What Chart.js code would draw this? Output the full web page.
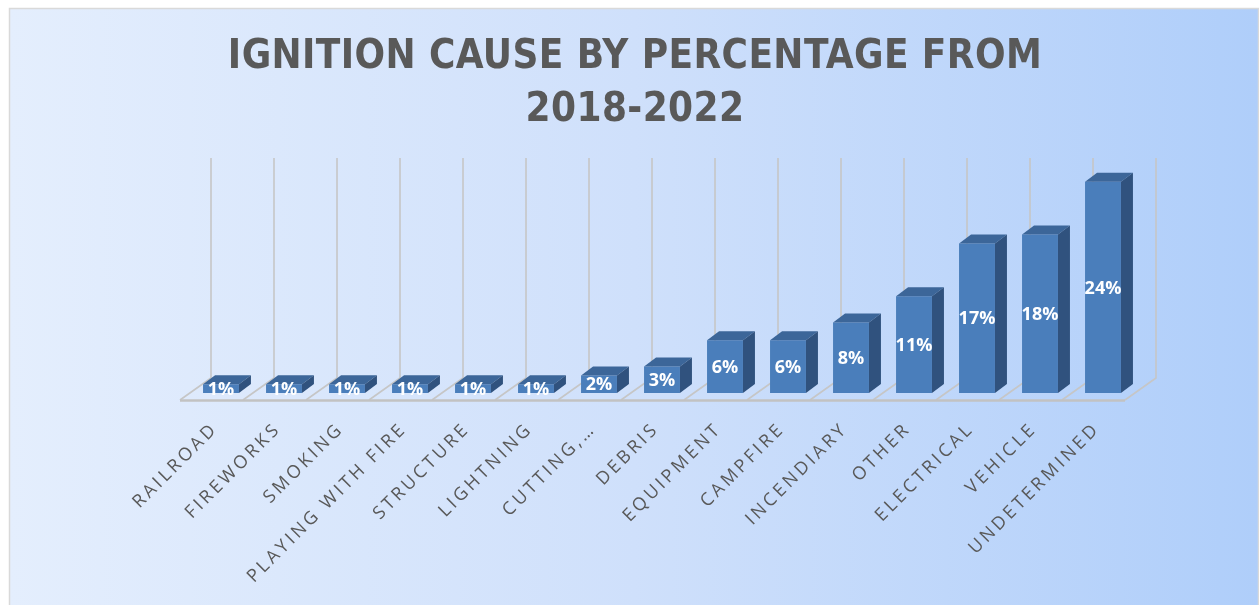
<!DOCTYPE html>
<html><head><meta charset="utf-8">
<script src="https://cdn.jsdelivr.net/npm/chart.js@4.4.1/dist/chart.umd.min.js"></script>
<style>html,body{margin:0;padding:0;background:#fff;overflow:hidden}#wrap{width:1259px;height:605px;position:relative}</style>
</head><body><div id="wrap"><canvas id="c" width="1259" height="605"></canvas></div>
<script>
const categories = ['RAILROAD','FIREWORKS','SMOKING','PLAYING WITH FIRE','STRUCTURE','LIGHTNING','CUTTING,…','DEBRIS','EQUIPMENT','CAMPFIRE','INCENDIARY','OTHER','ELECTRICAL','VEHICLE','UNDETERMINED'];
const percentages = [1,1,1,1,1,1,2,3,6,6,8,11,17,18,24];
const valueLabels = percentages.map(v => v + '%');
const titleLines = ['IGNITION CAUSE BY PERCENTAGE FROM','2018-2022'];
const axisMax = 25;

const BACK = {dx: 21.5, dy: -15};
const FRONT = {dx: -9.5, dy: 7};
const DEPTH = {dx: 12, dy: -9};
const TITLE_SHIFT = -27;

const threeD = {
  id: 'threeD',
  beforeDraw(chart) {
    const ctx = chart.ctx;
    ctx.save();
    ctx.fillStyle = '#ffffff';
    ctx.fillRect(0, 0, chart.width, chart.height);
    const g = ctx.createLinearGradient(10, 0, 1258, 0);
    g.addColorStop(0, '#e4eefd');
    g.addColorStop(0.5, '#cfe0fb');
    g.addColorStop(1, '#afcefa');
    ctx.fillStyle = g;
    ctx.fillRect(10, 9, 1248, 600);
    ctx.strokeStyle = '#d9d9d9';
    ctx.lineWidth = 1.5;
    ctx.strokeRect(9.5, 8.5, 1249, 610);
    ctx.restore();
    ctx.save();
    ctx.translate(TITLE_SHIFT, 0);
    ctx.letterSpacing = '0.4px';
  },
  beforeDatasetsDraw(chart) {
    const ctx = chart.ctx;
    ctx.restore();
    ctx.letterSpacing = '0px';
    const xs = chart.scales.x, ys = chart.scales.y;
    const n = categories.length;
    const cw = xs.getPixelForValue(1) - xs.getPixelForValue(0);
    const left = xs.getPixelForValue(0) - cw / 2;
    const y0 = ys.getPixelForValue(0), yTop = ys.getPixelForValue(axisMax);
    ctx.save();
    ctx.strokeStyle = '#c6c6c6';
    ctx.lineWidth = 1.6;
    for (let k = 0; k <= n; k++) {
      const bx = left + k * cw;
      ctx.beginPath();
      ctx.moveTo(bx + BACK.dx, yTop + BACK.dy);
      ctx.lineTo(bx + BACK.dx, y0 + BACK.dy);
      ctx.lineTo(bx + FRONT.dx, y0 + FRONT.dy);
      ctx.stroke();
    }
    ctx.strokeStyle = '#c2c2c2';
    ctx.lineWidth = 2.5;
    ctx.beginPath();
    ctx.moveTo(left + FRONT.dx, y0 + FRONT.dy + 0.5);
    ctx.lineTo(left + n * cw + FRONT.dx, y0 + FRONT.dy + 0.5);
    ctx.stroke();
    ctx.restore();
  },
  afterDatasetsDraw(chart) {
    const ctx = chart.ctx;
    const meta = chart.getDatasetMeta(0);
    ctx.save();
    meta.data.forEach((bar) => {
      const p = bar.getProps(['x','y','base','width'], true);
      const l = p.x - p.width / 2, r = p.x + p.width / 2;
      ctx.fillStyle = '#3c6699';
      ctx.beginPath();
      ctx.moveTo(l, p.y); ctx.lineTo(r, p.y);
      ctx.lineTo(r + DEPTH.dx, p.y + DEPTH.dy); ctx.lineTo(l + DEPTH.dx, p.y + DEPTH.dy);
      ctx.closePath(); ctx.fill();
      ctx.fillStyle = '#30527e';
      ctx.beginPath();
      ctx.moveTo(r, p.y); ctx.lineTo(r + DEPTH.dx, p.y + DEPTH.dy);
      ctx.lineTo(r + DEPTH.dx, p.base + DEPTH.dy); ctx.lineTo(r, p.base);
      ctx.closePath(); ctx.fill();
    });
    ctx.fillStyle = '#ffffff';
    ctx.font = 'bold 18px "Open Sans", sans-serif';
    ctx.textAlign = 'center';
    ctx.textBaseline = 'middle';
    meta.data.forEach((bar, i) => {
      const p = bar.getProps(['x','y','base'], true);
      ctx.fillText(valueLabels[i], p.x, (p.y + p.base) / 2 + 1);
    });
    ctx.restore();
  },
  afterDraw(chart) {
    const ctx = chart.ctx;
    const xs = chart.scales.x;
    ctx.save();
    ctx.letterSpacing = '3.2px';
    ctx.fillStyle = '#595959';
    ctx.font = '18px "Open Sans", sans-serif';
    ctx.textAlign = 'right';
    ctx.textBaseline = 'middle';
    categories.forEach((c, i) => {
      const x = xs.getPixelForValue(i) - 6;
      ctx.save();
      ctx.translate(x, 426);
      ctx.rotate(-Math.PI / 4);
      ctx.fillText(c, 0, 0);
      ctx.restore();
    });
    ctx.restore();
    ctx.letterSpacing = '0px';
  }
};

new Chart(document.getElementById('c'), {
  type: 'bar',
  data: {
    labels: categories,
    datasets: [{
      data: percentages,
      backgroundColor: '#4a7ebb',
      borderWidth: 0,
      barPercentage: 0.57,
      categoryPercentage: 1.0
    }]
  },
  options: {
    responsive: false,
    animation: false,
    layout: { padding: { left: 189.5, right: 124.5, top: 9, bottom: 212 } },
    scales: {
      x: { display: false },
      y: { display: false, min: 0, max: axisMax }
    },
    plugins: {
      legend: { display: false },
      tooltip: { enabled: false },
      title: {
        display: true,
        text: titleLines,
        color: '#595959',
        font: { family: "'Liberation Sans Narrow', 'DejaVu Sans Condensed', sans-serif", size: 40, weight: 'bold', lineHeight: 1.32 },
        padding: { top: 22, bottom: 36.4 }
      }
    }
  },
  plugins: [threeD]
});
</script>
</body></html>
